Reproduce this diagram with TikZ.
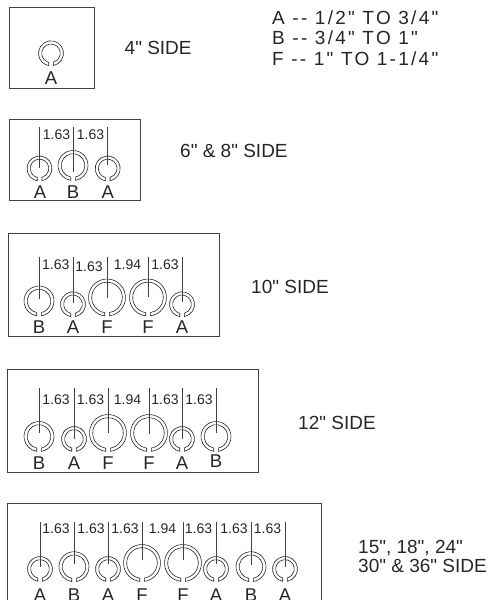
\documentclass[tikz,border=0pt]{standalone}
\usepackage{fontspec}
\setmainfont{Liberation Sans}[Ligatures=TeXOff]
\newcommand{\ringfit}[3]{% x, cy, outer r
  \pgfmathsetmacro{\rin}{#3-3.2}
  \pgfmathsetmacro{\aout}{asin(2.3/#3)}
  \pgfmathsetmacro{\ain}{asin(2.3/\rin)}
  \draw[ringline] ({#1+2.3},{#2+#3*cos(\aout)})
    arc[start angle={90-\aout},end angle={-270+\aout},radius=#3]
    -- ({#1-2.3},{#2+\rin*cos(\ain)})
    arc[start angle={-270+\ain},end angle={90-\ain},radius=\rin] -- cycle;
}
\newcommand{\leaderline}[3]{\draw[leader] (#1,#2) -- (#1,#3);}
\tikzset{
  panel/.style={draw=black!75,line width=0.9pt},
  ringline/.style={draw=black!85,line width=0.6pt},
  leader/.style={draw=black!75,line width=0.8pt},
  lbl/.style={font=\fontsize{18.5}{18.5}\selectfont,inner sep=0pt,text=black!85},
  dim/.style={font=\fontsize{14}{14}\selectfont,inner sep=0pt,text=black!85},
  captext/.style={font=\fontsize{19}{19}\selectfont,inner sep=0pt,anchor=base west,text=black!85},
  keytext/.style={captext,font=\fontsize{19}{19}\selectfont\addfontfeatures{LetterSpace=12}},
}
\begin{document}
\begin{tikzpicture}[x=1pt,y=-1pt]
\useasboundingbox (0,0) rectangle (488,600);
% panel 1
\draw[panel] (9,7.3) rectangle (94,88.3);
\ringfit{51}{53.3}{12.5}
\node[lbl] (a1) at (51,78) {A};
\node[captext] (t1) at (124.5,54) {4" SIDE};
\node[keytext] (k1) at (272,24) {A -- 1/2" TO 3/4"};
\node[keytext] (k2) at (272,44) {B -- 3/4" TO 1"};
\node[keytext] (k3) at (272,65) {F -- 1" TO 1-1/4"};
% panel 2
\draw[panel] (9,119.5) rectangle (140,200.5);
\foreach \x/\c/\R/\e in {39.5/168.5/12.5/168,73/165.5/15/172,107.7/168.5/12.5/165}{
  \ringfit{\x}{\c}{\R}\leaderline{\x}{127}{\e}}
\node[dim] (d21) at (56.5,135) {1.63};
\node[dim] (d22) at (90.5,135) {1.63};
\node[lbl] (l21) at (40,192) {A};
\node[lbl] (l22) at (73,192) {B};
\node[lbl] (l23) at (107.7,192) {A};
\node[captext] (t2) at (180,157) {6" \& 8" SIDE};
% panel 3
\draw[panel] (8,233) rectangle (219,336.7);
\foreach \x/\c/\R/\e in {39/301/15/299,73/304.3/12.5/303,107/297.5/18.5/298,148/297.5/18.5/297,182/304.3/12.5/302}{
  \ringfit{\x}{\c}{\R}\leaderline{\x}{257}{\e}}
\node[dim] (d31) at (55.8,265) {1.63};
\node[dim] (d32) at (89,266.7) {1.63};
\node[dim] (d33) at (127.5,265) {1.94};
\node[dim] (d34) at (165,265) {1.63};
\node[lbl] (l31) at (39,327) {B};
\node[lbl] (l32) at (73,327.5) {A};
\node[lbl] (l33) at (107,327) {F};
\node[lbl] (l34) at (148,327) {F};
\node[lbl] (l35) at (182,327) {A};
\node[captext] (t3) at (251,293) {10" SIDE};
% panel 4
\draw[panel] (7,369.3) rectangle (258,472.7);
\foreach \x/\c/\R/\e in {39/436.5/15/433,74/439/12.5/439,108/433/18.5/433,149/433/18.5/434,182/439/12.5/439,216/436.5/15/433}{
  \ringfit{\x}{\c}{\R}\leaderline{\x}{388}{\e}}
\node[dim] (d41) at (56,400) {1.63};
\node[dim] (d42) at (90.5,400) {1.63};
\node[dim] (d43) at (127.5,400) {1.94};
\node[dim] (d44) at (165,400) {1.63};
\node[dim] (d45) at (199,400) {1.63};
\node[lbl] (l41) at (39,463) {B};
\node[lbl] (l42) at (74,463) {A};
\node[lbl] (l43) at (108,463) {F};
\node[lbl] (l44) at (149,463) {F};
\node[lbl] (l45) at (182,463) {A};
\node[lbl] (l46) at (216,461) {B};
\node[captext] (t4) at (298,429) {12" SIDE};
% panel 5
\draw[panel] (7,600) -- (7,503.3) -- (321.7,503.3) -- (321.7,600);
\foreach \x/\c/\R/\e in {40/569/12.5/566.7,74/566.7/15/564,108/569/12.5/564,142/563/18.5/560,183/563/18.5/560,216/569/12.5/564,251/566.7/15/565,285/569/12.5/566.7}{
  \ringfit{\x}{\c}{\R}\leaderline{\x}{521.5}{\e}}
\node[dim] (d51) at (56,529) {1.63};
\node[dim] (d52) at (91,529) {1.63};
\node[dim] (d53) at (125,529) {1.63};
\node[dim] (d54) at (162.5,529) {1.94};
\node[dim] (d55) at (198.5,529) {1.63};
\node[dim] (d56) at (234,529) {1.63};
\node[dim] (d57) at (267.5,529) {1.63};
\foreach \x/\t [count=\i] in {40/A,74/B,108/A,142/F,183/F,216/A,251/B,285/A}{
  \node[lbl] (l5\i) at (\x,595) {\t};}
\node[captext] (t5a) at (358,553.3) {15", 18", 24"};
\node[captext] (t5b) at (358,572.7) {30" \& 36" SIDE};
\end{tikzpicture}
\end{document}
